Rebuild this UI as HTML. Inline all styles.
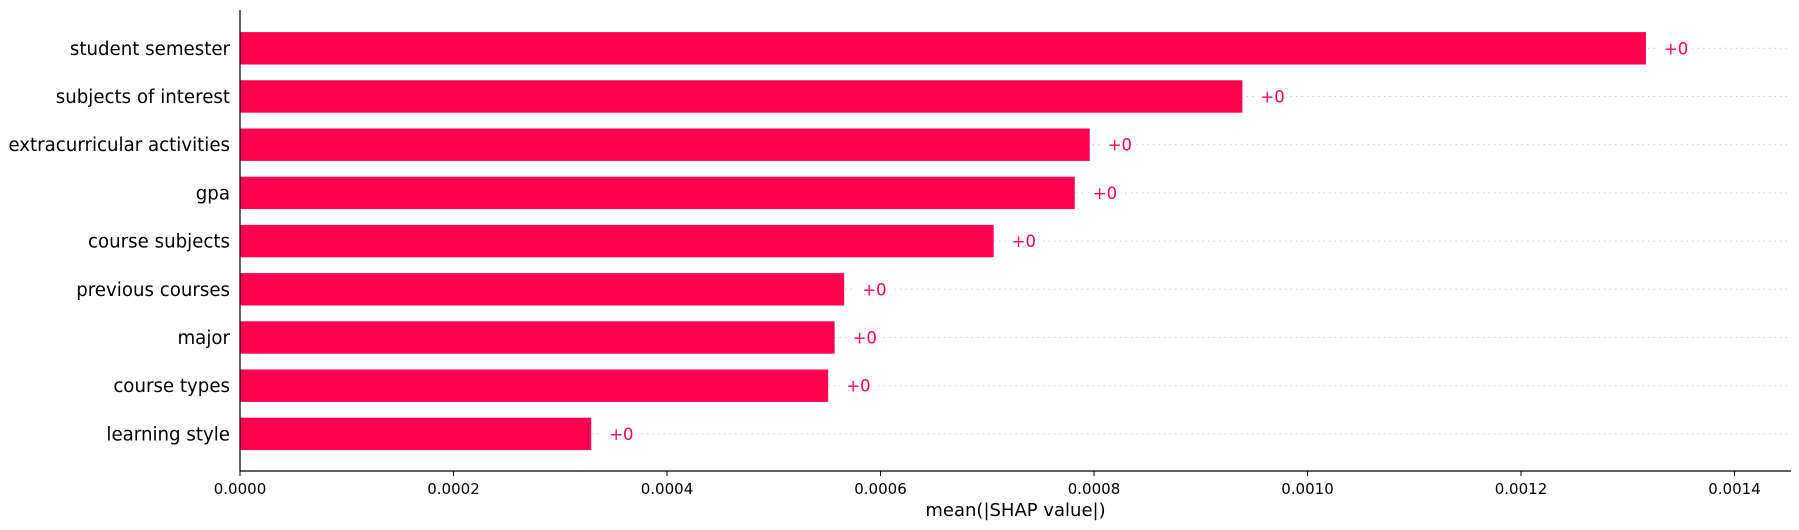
<!DOCTYPE html>
<html><head><meta charset="utf-8">
<style>html,body{margin:0;padding:0;background:#fff;}svg{display:block;font-family:"DejaVu Sans","Liberation Sans",sans-serif;}</style>
</head><body>
<svg id="chart" width="1799" height="530" viewBox="0 0 1799 530" xmlns="http://www.w3.org/2000/svg"></svg>
<script>
const features = ["student semester","subjects of interest","extracurricular activities","gpa","course subjects","previous courses","major","course types","learning style"];
const values = [0.001317,0.000939,0.000796,0.000782,0.000706,0.000566,0.000557,0.000551,0.000329];
const valueLabels = ["+0","+0","+0","+0","+0","+0","+0","+0","+0"];
const ticks = [0,0.0002,0.0004,0.0006,0.0008,0.0010,0.0012,0.0014];
const tickLabels = ["0.0000","0.0002","0.0004","0.0006","0.0008","0.0010","0.0012","0.0014"];

const svg = document.getElementById('chart');
const NS = 'http://www.w3.org/2000/svg';
const x0 = 240, pxPer = 1067.5/0.001, xEnd = 1791, axisY = 471;
const y0 = 48.3, step = 48.2, barH = 32.4;
function xs(v){ return x0 + v*pxPer; }
function ys(i){ return y0 + i*step; }
function mk(tag, attrs, txt){ const e=document.createElementNS(NS,tag); for(const k in attrs) e.setAttribute(k,attrs[k]); if(txt!==undefined) e.textContent=txt; svg.appendChild(e); return e; }

features.forEach((f,i)=>{
  const y = ys(i);
  const g = mk('line',{x1:x0,x2:xEnd,y1:y,y2:y,stroke:'#cccccc','stroke-width':1,'stroke-dasharray':'1.5,4'});
  
  
});
features.forEach((f,i)=>{
  const y = ys(i);
  const b = mk('rect',{x:x0,y:y-barH/2,width:xs(values[i])-x0,height:barH,fill:'#ff0051'});
  
  
  const bg = mk('rect',{x:xs(values[i])+12,y:y-10,width:34,height:20,fill:'#fff'});
  
  
  const t = mk('text',{x:xs(values[i])+18,y:y+6,fill:'#ff0051','font-size':16.5},valueLabels[i]);
  
  
  const l = mk('text',{x:230,y:y+6.5,'text-anchor':'end',fill:'#000','font-size':18.2},f);
  
  
});
const ya = mk('line',{x1:x0,x2:x0,y1:10,y2:axisY,stroke:'#000','stroke-width':1.2});


const xa = mk('line',{x1:x0,x2:xEnd,y1:axisY,y2:axisY,stroke:'#000','stroke-width':1.2});


ticks.forEach((v,i)=>{
  const tk = mk('line',{x1:xs(v),x2:xs(v),y1:axisY,y2:axisY+5,stroke:'#000','stroke-width':1});
  
  
  const tl = mk('text',{x:xs(v),y:494,'text-anchor':'middle','font-size':15,fill:'#000'},tickLabels[i]);
  
  
});
const xt = mk('text',{x:(x0+xEnd)/2,y:516,'text-anchor':'middle','font-size':18,fill:'#000'},'mean(|SHAP value|)');


</script>
</body></html>
